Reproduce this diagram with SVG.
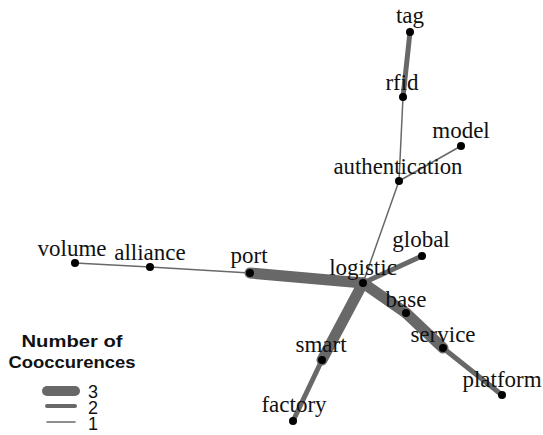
<svg xmlns="http://www.w3.org/2000/svg" width="543" height="435" viewBox="0 0 543 435">
<style>
.lbl{font-family:"Liberation Serif","Times New Roman",serif;font-size:23px;fill:#111;text-anchor:middle}
.dot{fill:#000}
.e{stroke:#686868;fill:none;stroke-linecap:round}
.w1{stroke-width:1.5}
.w2{stroke-width:5}
.w3{stroke-width:11}
.leg{font-family:"Liberation Sans",Arial,sans-serif;fill:#111}
</style>
<rect width="543" height="435" fill="#fff"/>
<g id="connectors">
<line class="e w2" x1="410" y1="32" x2="403" y2="97"/>
<line class="e w1" x1="403" y1="97" x2="399" y2="181"/>
<line class="e w1" x1="399" y1="181" x2="461" y2="146"/>
<line class="e w1" x1="399" y1="181" x2="363" y2="283"/>
<line class="e w1" x1="75" y1="263" x2="150" y2="267"/>
<line class="e w1" x1="150" y1="267" x2="250" y2="273"/>
<line class="e w3" x1="250" y1="273" x2="363" y2="283"/>
<line class="e w2" x1="363" y1="283" x2="422" y2="256"/>
<line class="e w3" x1="363" y1="283" x2="406" y2="313"/>
<line class="e w3" x1="406" y1="313" x2="443" y2="348"/>
<line class="e w2" x1="443" y1="348" x2="502" y2="395"/>
<line class="e w3" x1="363" y1="283" x2="322" y2="360"/>
<line class="e w2" x1="322" y1="360" x2="293" y2="421"/>
</g>
<g id="tag"><circle class="dot" cx="410" cy="32" r="4"/><text class="lbl" x="410" y="23">tag</text></g>
<g id="rfid"><circle class="dot" cx="403" cy="97" r="4"/><text class="lbl" x="402" y="90">rfid</text></g>
<g id="model"><circle class="dot" cx="461" cy="146" r="4"/><text class="lbl" x="461" y="138">model</text></g>
<g id="authentication"><circle class="dot" cx="399" cy="181" r="4"/><text class="lbl" x="398" y="174" textLength="129" lengthAdjust="spacingAndGlyphs">authentication</text></g>
<g id="volume"><circle class="dot" cx="75" cy="263" r="4"/><text class="lbl" x="72" y="256">volume</text></g>
<g id="alliance"><circle class="dot" cx="150" cy="267" r="4"/><text class="lbl" x="150" y="260">alliance</text></g>
<g id="port"><circle class="dot" cx="250" cy="273" r="4"/><text class="lbl" x="249" y="263">port</text></g>
<g id="logistic"><circle class="dot" cx="363" cy="283" r="4"/><text class="lbl" x="363" y="275">logistic</text></g>
<g id="global"><circle class="dot" cx="422" cy="256" r="4"/><text class="lbl" x="421" y="247">global</text></g>
<g id="base"><circle class="dot" cx="406" cy="313" r="4"/><text class="lbl" x="406" y="307">base</text></g>
<g id="service"><circle class="dot" cx="443" cy="348" r="4"/><text class="lbl" x="443" y="342">service</text></g>
<g id="platform"><circle class="dot" cx="502" cy="395" r="4"/><text class="lbl" x="502" y="387">platform</text></g>
<g id="smart"><circle class="dot" cx="322" cy="360" r="4"/><text class="lbl" x="321" y="352">smart</text></g>
<g id="factory"><circle class="dot" cx="293" cy="421" r="4"/><text class="lbl" x="294" y="412">factory</text></g>
<g id="legend">
<text class="leg" x="72" y="347" font-size="16" font-weight="bold" text-anchor="middle" textLength="101" lengthAdjust="spacingAndGlyphs">Number of</text>
<text class="leg" x="72" y="368" font-size="16" font-weight="bold" text-anchor="middle" textLength="127" lengthAdjust="spacingAndGlyphs">Cooccurences</text>
<line class="e" stroke-width="10" x1="47" y1="391" x2="75" y2="391"/>
<line class="e" stroke-width="4" x1="47" y1="406" x2="75" y2="406"/>
<line class="e" stroke-width="1.5" x1="47" y1="422" x2="75" y2="422"/>
<text class="leg" font-size="18"><tspan x="88" y="398">3</tspan><tspan x="88" y="414">2</tspan><tspan x="88" y="430">1</tspan></text>
</g>
</svg>
